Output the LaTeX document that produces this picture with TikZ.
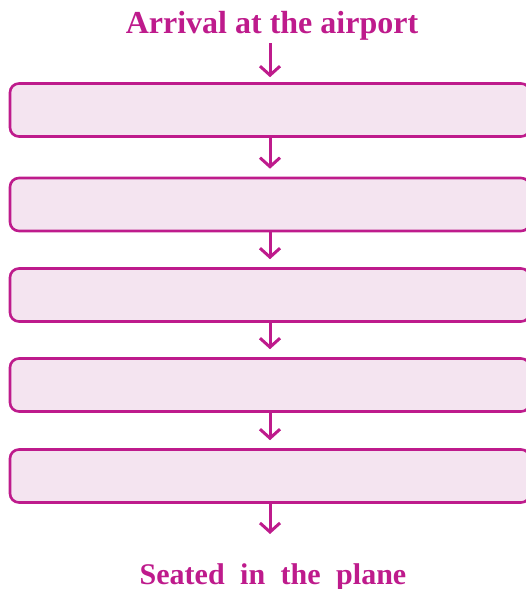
\documentclass[tikz,border=0pt]{standalone}
\usepackage{fontspec}
\setmainfont{Liberation Serif}
\usetikzlibrary{arrows.meta}
\definecolor{plum}{RGB}{190,27,140}
\definecolor{pinkfill}{RGB}{244,228,240}
\tikzset{
  stepbox/.style={rectangle,rounded corners=9pt,draw=plum,fill=pinkfill,line width=2.6pt,minimum width=520pt,minimum height=53pt,inner sep=0pt},
  flow/.style={draw=plum,line width=3pt,-{Straight Barb[length=9pt,width=20pt]}},
  label/.style={text=plum,font=\bfseries,inner sep=0pt}
}
\begin{document}
\begin{tikzpicture}[x=1pt,y=-1pt]
\useasboundingbox (0,0) rectangle (526,589);
\node[label,font=\fontsize{32}{36}\selectfont\bfseries,anchor=base] (arrival) at (272,33) {Arrival at the airport};
\node[stepbox] (step1) at (270,110) {};
\draw[flow,shorten <=3pt,shorten >=5pt] (arrival.south -| step1.north) -- (step1.north);

\node[stepbox] (step2) at (270,204.5) {};
\draw[flow,shorten >=8pt] (step1) -- (step2);

\node[stepbox] (step3) at (270,295) {};
\draw[flow,shorten >=8pt] (step2) -- (step3);

\node[stepbox] (step4) at (270,385) {};
\draw[flow,shorten >=8pt] (step3) -- (step4);

\node[stepbox] (step5) at (270,476) {};
\draw[flow,shorten >=8pt] (step4) -- (step5);

\node[label,font=\fontsize{30}{34}\selectfont\bfseries,anchor=base] (seated) at (273,584) {\spaceskip=15.5pt Seated in the plane};
\draw[flow,shorten >=29pt] (step5.south) -- (step5.south |- seated.north);
\end{tikzpicture}
\end{document}
